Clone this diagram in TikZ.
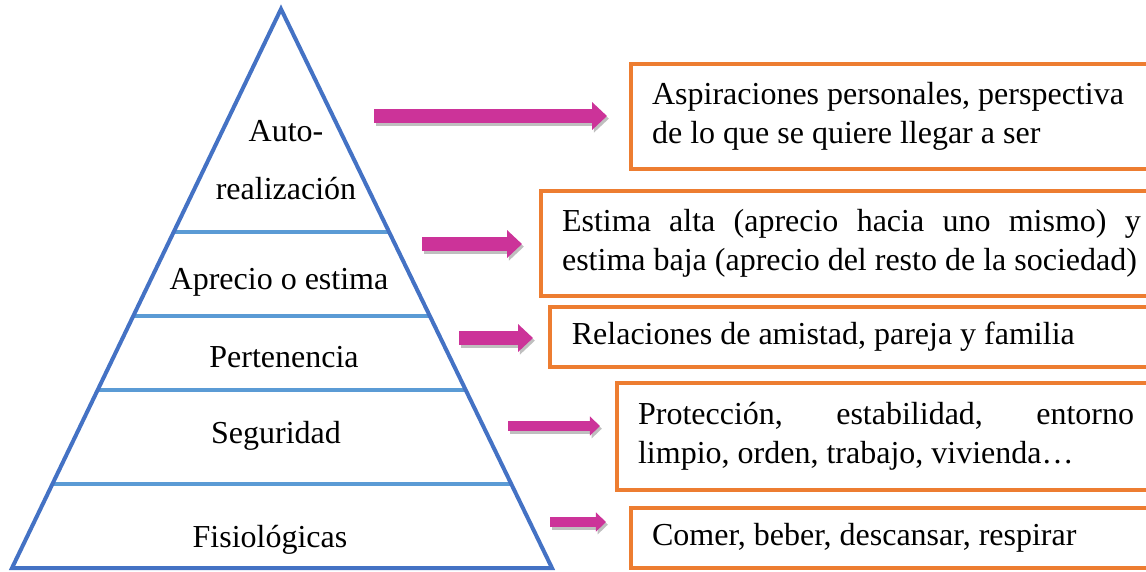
\documentclass[tikz,border=0pt]{standalone}
\usepackage{fontspec}
\setmainfont{Liberation Serif}
\usetikzlibrary{calc,arrows.meta}
\definecolor{azulpir}{RGB}{68,114,196}
\definecolor{azulniv}{RGB}{91,155,213}
\definecolor{naranja}{RGB}{237,125,49}
\definecolor{rosa}{RGB}{204,51,153}
\tikzset{
  texto/.style={font=\fontsize{12}{14.5}\selectfont},
  caja/.style={texto, draw=naranja, line width=1.5pt, outer sep=0pt,
    inner xsep=7.9pt, anchor=north west, align=flush left},
  flecha/.style={rosa, line width=5.25pt, -{Triangle[length=5.6pt,width=10.1pt]},
    preaction={draw=black!25, line width=5.25pt, -{Triangle[length=5.6pt,width=10.1pt]},
      transform canvas={shift={(0.7pt,-1pt)}}}},
  flechita/.style={rosa, line width=3.9pt, -{Triangle[length=3.8pt,width=7pt]},
    preaction={draw=black!25, line width=3.9pt, -{Triangle[length=3.8pt,width=7pt]},
      transform canvas={shift={(0.7pt,-1pt)}}}}
}

\begin{document}
\begin{tikzpicture}[x=0.375pt,y=-0.375pt]
    \useasboundingbox (0,0) rectangle (1146,571);
    \clip (0,0) rectangle (1146,571);
    % piramide
    \coordinate (cima) at (281,9);
    \coordinate (izq) at (12,568);
    \coordinate (der) at (552,568);
    \foreach \t in {0.399,0.549,0.682,0.850}
        \draw[azulniv, line width=1.5pt] ($(cima)!\t!(izq)$) -- ($(cima)!\t!(der)$);
    \draw[azulpir, line width=1.5pt, line join=miter] (cima) -- (izq) -- (der) -- cycle;
    % niveles
    \node[texto, align=center] (auto) at (286,160) {Auto-\\[7pt]realización};
    \node[texto] (aprecio) at (279,282) {Aprecio o estima};
    \node[texto] (perten) at (284,357) {Pertenencia};
    \node[texto] (segur) at (276,436) {Seguridad};
    \node[texto] (fisio) at (270,540) {Fisiológicas};
    % cajas naranjas (se cortan a la derecha)
    \node[caja, text width=195pt, minimum height=39.4pt] (asp) at (631,64)
        {Aspiraciones personales, perspectiva\\de lo que se quiere llegar a ser};
    \node[caja, text width=217pt, minimum height=39.4pt, align=justify] (est) at (541,191)
        {Estima alta (aprecio hacia uno mismo) y\linebreak estima baja (aprecio del resto de la sociedad)};
    \node[caja, text width=210pt, minimum height=22.5pt, inner xsep=8.2pt] (rel) at (550,307)
        {Relaciones de amistad, pareja y familia};
    \node[caja, text width=186pt, minimum height=40pt, align=justify] (prot) at (617,383)
        {Protección, estabilidad, entorno\linebreak limpio, orden, trabajo, vivienda…};
    \node[caja, text width=200pt, minimum height=22.5pt] (com) at (631,508)
        {Comer, beber, descansar, respirar};
    % flechas
    \coordinate (f1a) at (374,116); \coordinate (f1b) at (607,116);
    \coordinate (f2a) at (422,244); \coordinate (f2b) at (522,244);
    \coordinate (f3a) at (459,338); \coordinate (f3b) at (533,338);
    \coordinate (f4a) at (508,426); \coordinate (f4b) at (600,426);
    \coordinate (f5a) at (550,522); \coordinate (f5b) at (606,522);
    \draw[flecha] (f1a) -- (f1b);
    \draw[flecha] (f2a) -- (f2b);
    \draw[flecha] (f3a) -- (f3b);
    \draw[flechita] (f4a) -- (f4b);
    \draw[flechita] (f5a) -- (f5b);
\end{tikzpicture}
\end{document}
